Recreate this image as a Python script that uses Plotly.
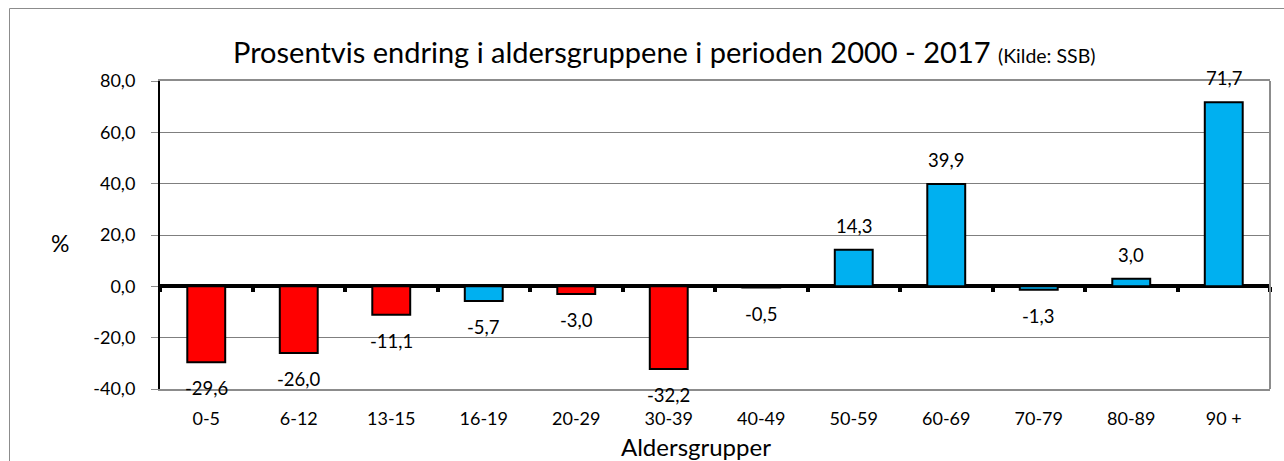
import plotly.graph_objects as go

categories = ["0-5", "6-12", "13-15", "16-19", "20-29", "30-39", "40-49",
              "50-59", "60-69", "70-79", "80-89", "90 +"]
values = [-29.6, -26.0, -11.1, -5.7, -3.0, -32.2, -0.5, 14.3, 39.9, -1.3, 3.0, 71.7]
bar_colors = ["#FF0000", "#FF0000", "#FF0000", "#00B0F0", "#FF0000", "#FF0000",
              "#FF0000", "#00B0F0", "#00B0F0", "#00B0F0", "#00B0F0", "#00B0F0"]
y_ticks = [-40, -20, 0, 20, 40, 60, 80]
y_ticklabels = ["-40,0", "-20,0", "0,0", "20,0", "40,0", "60,0", "80,0"]
title_main = "Prosentvis endring i aldersgruppene i perioden 2000 - 2017"
title_source = "(Kilde: SSB)"
y_title = "%"
x_title = "Aldersgrupper"

FONT = "Lato, Calibri, Carlito, sans-serif"
W, H = 1284, 461
L, R, T, B = 160, 14, 81, 72
ymin, ymax = -40, 80

fig = go.Figure()
fig.add_trace(go.Bar(
    x=categories, y=values,
    marker=dict(color=bar_colors, line=dict(color="black", width=2)),
    width=0.41,
    hoverinfo="x+y",
))

# value labels
for c, v in zip(categories, values):
    fig.add_annotation(
        x=c, y=v, text=f"{v:.1f}".replace(".", ","),
        showarrow=False, yanchor="middle", xanchor="center",
        yshift=(24 if v > 0 else -26),
        font=dict(family=FONT, size=18.5, color="black"),
    )

zero_pos = (0 - ymin) / (ymax - ymin)

fig.update_layout(
    width=W, height=H,
    margin=dict(l=L, r=R, t=T, b=B),
    paper_bgcolor="white", plot_bgcolor="white",
    showlegend=False,
    bargap=0.59,
    font=dict(family=FONT, size=18, color="black"),
    xaxis=dict(
        type="category",
        showline=True, linecolor="#8C8C8C", linewidth=2, mirror=True,
        ticks="", showgrid=False, zeroline=False,
        tickfont=dict(family=FONT, size=18, color="black"),
        ticklabelstandoff=12,
    ),
    xaxis2=dict(
        type="category", overlaying="x", anchor="free", position=zero_pos,
        matches="x", showline=False, showticklabels=False,
        ticks="outside", ticklen=5, tickwidth=4, tickcolor="black",
        tickson="boundaries", showgrid=False, zeroline=False,
    ),
    yaxis=dict(
        range=[ymin, ymax], tickvals=y_ticks, ticktext=y_ticklabels,
        showline=True, linecolor="black", linewidth=2,
        ticks="outside", ticklen=7, tickcolor="#8C8C8C", tickwidth=1,
        showgrid=True, gridcolor="#7F7F7F", gridwidth=1,
        zeroline=True, zerolinecolor="black", zerolinewidth=4,
        tickfont=dict(family=FONT, size=18, color="black"),
        ticklabelstandoff=12,
    ),
)

# invisible trace to activate xaxis2 ticks
fig.add_trace(go.Bar(x=categories, y=[None] * len(categories), xaxis="x2",
                     showlegend=False, hoverinfo="skip"))

# right border of plot area
fig.add_shape(type="line", xref="x domain", yref="y domain",
              x0=1, x1=1, y0=0, y1=1, line=dict(color="#8C8C8C", width=2))

# outer chart border (left / top visible)
pw = W - L - R
ph = H - T - B
fig.add_shape(type="rect", xref="paper", yref="paper",
              x0=(9.5 - L) / pw, x1=(W + 20 - L) / pw,
              y0=-(H + 20 - (H - B)) / ph, y1=(H - B - 8.5) / ph,
              line=dict(color="#8C8C8C", width=1), layer="below")

# title
fig.add_annotation(
    xref="paper", yref="paper",
    x=(664 - L) / pw, y=(H - B - 51) / ph,
    text=f"{title_main} <span style='font-size:19.5px'>{title_source}</span>",
    showarrow=False, xanchor="center", yanchor="middle",
    font=dict(family=FONT, size=29, color="black"),
)
# y title
fig.add_annotation(
    xref="paper", yref="paper",
    x=(60 - L) / pw, y=(H - B - 243) / ph,
    text=y_title, showarrow=False, xanchor="center", yanchor="middle",
    font=dict(family=FONT, size=23, color="black"),
)
# x title
fig.add_annotation(
    xref="paper", yref="paper",
    x=(696 - L) / pw, y=(H - B - 446) / ph,
    text=x_title, showarrow=False, xanchor="center", yanchor="middle",
    font=dict(family=FONT, size=24, color="black"),
)

fig.write_html("out.html", config={"displayModeBar": False},
               post_script="document.body.style.margin='0';document.body.style.overflow='hidden';")
